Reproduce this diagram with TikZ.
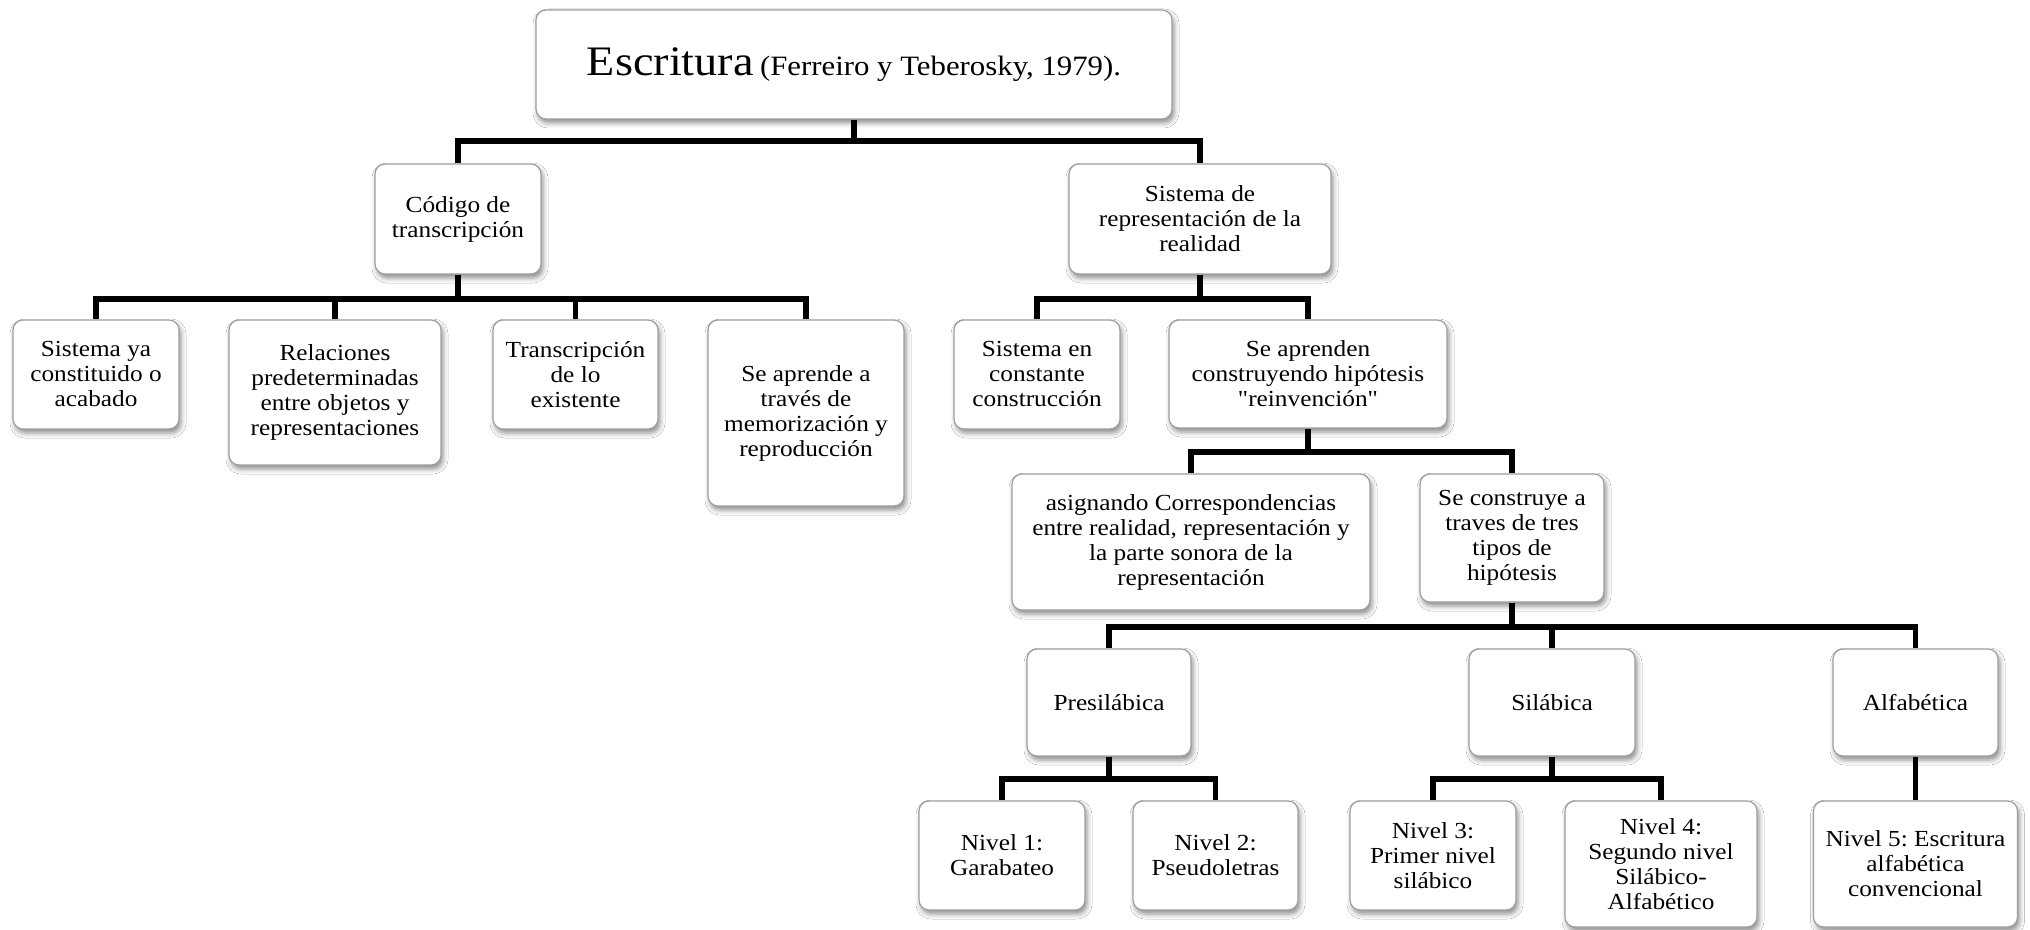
\documentclass[tikz,border=0pt]{standalone}
\usepackage{fontspec}
\setmainfont{Liberation Serif}[FakeStretch=1.1, Ligatures=TeXOff]
\usetikzlibrary{shadows.blur}
\frenchspacing
\begin{document}
\begin{tikzpicture}[x=0.5pt,y=-0.5pt,
  box/.style={draw=black!38, line width=0.6pt, rounded corners=5pt, fill=white,
    align=center, inner sep=0pt, font=\fontsize{11.5}{12.5}\selectfont,
    blur shadow={shadow xshift=1pt, shadow yshift=-2pt, shadow blur radius=2.5pt, shadow opacity=45}},
  sz/.style 2 args={minimum width=#1*0.5pt, minimum height=#2*0.5pt},
  conn/.style={line width=2.6pt, line join=miter}]
\useasboundingbox[fill=white] (0,0) rectangle (2030,930);

% title
\node[box, sz={636}{109}] (top) at (854,64.5)
  {{\fontsize{21}{24}\selectfont Escritura} {\fontsize{14}{16}\selectfont(Ferreiro y Teberosky, 1979).}};

% second level
\node[box, sz={166}{110}] (cod) at (458,219) {Código de\\transcripción};
\node[box, sz={262}{110}] (srep) at (1200,219) {Sistema de\\representación de la\\realidad};

% children of "Código de transcripción"
\node[box, sz={166}{109}] (ya) at (96,374.5) {Sistema ya\\constituido o\\acabado};
\node[box, sz={212}{145}] (rel) at (335,392.5) {Relaciones\\predeterminadas\\entre objetos y\\representaciones};
\node[box, sz={165}{109}] (tra) at (575.5,374.5) {Transcripción\\de lo\\existente};
\node[box, sz={196}{186}] (sea) at (806,413) {Se aprende a\\través de\\memorización y\\reproducción};

% children of "Sistema de representación"
\node[box, sz={166}{109}] (cons) at (1037,374.5) {Sistema en\\constante\\construcción};
\node[box, sz={278}{108}] (sap) at (1308,374) {Se aprenden\\construyendo hipótesis\\"reinvención"};

\node[box, sz={358}{136}] (asig) at (1191,542) {asignando Correspondencias\\entre realidad, representación y\\la parte sonora de la\\representación};
\node[box, sz={184}{128}] (secon) at (1512,538) {Se construye a\\traves de tres\\tipos de\\hipótesis};

% hypotheses
\node[box, sz={164}{107}] (pre) at (1109,702.5) {Presilábica};
\node[box, sz={166}{107}] (sil) at (1552,702.5) {Silábica};
\node[box, sz={165}{107}] (alf) at (1915.5,702.5) {Alfabética};

% levels
\node[box, sz={166}{109}] (n1) at (1002,855.5) {Nivel 1:\\Garabateo};
\node[box, sz={165}{109}] (n2) at (1215.5,855.5) {Nivel 2:\\Pseudoletras};
\node[box, sz={166}{109}] (n3) at (1433,855.5) {Nivel 3:\\Primer nivel\\silábico};
\node[box, sz={192}{126}] (n4) at (1661,864) {Nivel 4:\\Segundo nivel\\Silábico-\\Alfabético};
\node[box, sz={204}{126}] (n5) at (1915.5,864) {Nivel 5: Escritura\\alfabética\\convencional};

% connectors
\foreach \c in {cod,srep}
  \draw[conn] (top.south) -- (top.south |- 0,141) -| (\c.north);
\foreach \c in {ya,rel,tra,sea}
  \draw[conn] (cod.south) -- (cod.south |- 0,299) -| (\c.north);
\foreach \c in {cons,sap}
  \draw[conn] (srep.south) -- (srep.south |- 0,299) -| (\c.north);
\foreach \c in {asig,secon}
  \draw[conn] (sap.south) -- (sap.south |- 0,452) -| (\c.north);
\foreach \c in {pre,sil,alf}
  \draw[conn] (secon.south) -- (secon.south |- 0,627) -| (\c.north);
\foreach \c in {n1,n2}
  \draw[conn] (pre.south) -- (pre.south |- 0,779) -| (\c.north);
\foreach \c in {n3,n4}
  \draw[conn] (sil.south) -- (sil.south |- 0,779) -| (\c.north);
\draw[conn] (alf.south) -- (n5.north);
\end{tikzpicture}
\end{document}
